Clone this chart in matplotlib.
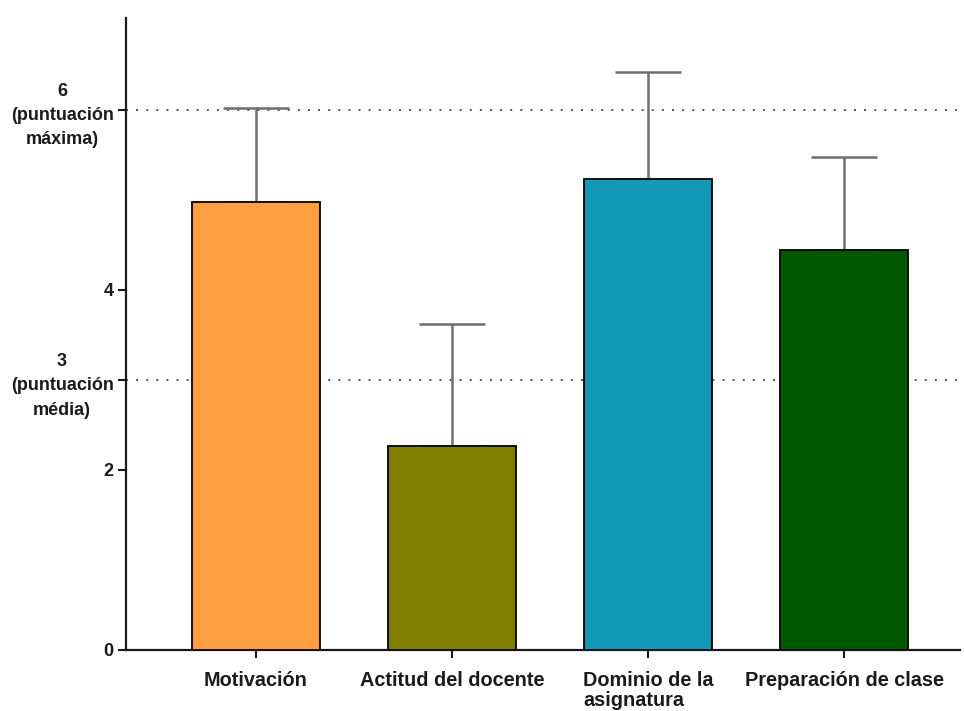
import matplotlib
matplotlib.use("Agg")
import matplotlib.pyplot as plt

# Mean scores and upper error (one SD) per dimension
categories = ["Motivación", "Actitud del docente", "Dominio de la\nasignatura", "Preparación de clase"]
means = [4.98, 2.27, 5.23, 4.44]
errors = [1.04, 1.35, 1.19, 1.04]
colors = ["#FFA040", "#7F7F00", "#1399B5", "#005800"]

ytick_values = [0, 2, 3, 4, 6]
ytick_labels = ["0", "2", "3\n(puntuación\nmédia)", "4", "6\n(puntuación\nmáxima)"]
reference_lines = [3, 6]

plt.rcParams["font.family"] = ["Liberation Sans", "DejaVu Sans"]

fig = plt.figure(figsize=(9.64, 7.11), dpi=100)
ax = fig.add_axes([126 / 964, 61 / 711, (960 - 126) / 964, (650 - 18) / 711])

x = list(range(len(categories)))
ax.bar(x, means, width=0.653, color=colors, edgecolor="black", linewidth=1.3, zorder=3)
ax.errorbar(x, means, yerr=[[0] * len(means), errors], fmt="none",
            ecolor="#6e6e6e", elinewidth=1.8, capsize=24, capthick=1.8, zorder=2)

for yv in reference_lines:
    ax.axhline(yv, color="#555555", linewidth=1.4, linestyle=(0, (1, 4.2)), zorder=1)

ax.set_xlim(-0.663, 3.59)
ax.set_ylim(0, 7.02)

ax.set_yticks(ytick_values)
ax.set_yticklabels(ytick_labels)
for t in ax.get_yticklabels():
    t.set_multialignment("center")
    t.set_linespacing(1.57)
    t.set_fontsize(13)
ax.set_xticks(x)
ax.set_xticklabels(categories)
for t in ax.get_xticklabels():
    t.set_multialignment("left")
    t.set_linespacing(1.08)
    t.set_fontsize(14.3)

ax.tick_params(axis="both", colors="#1a1a1a", width=1.5, length=6)
for t in ax.get_xticklabels() + ax.get_yticklabels():
    t.set_fontweight("bold")
ax.tick_params(axis="x", pad=9)
ax.tick_params(axis="y", pad=3)

for side in ["top", "right"]:
    ax.spines[side].set_visible(False)
for side in ["left", "bottom"]:
    ax.spines[side].set_linewidth(1.6)
    ax.spines[side].set_color("#1a1a1a")

fig.savefig("out.png", dpi=100)
